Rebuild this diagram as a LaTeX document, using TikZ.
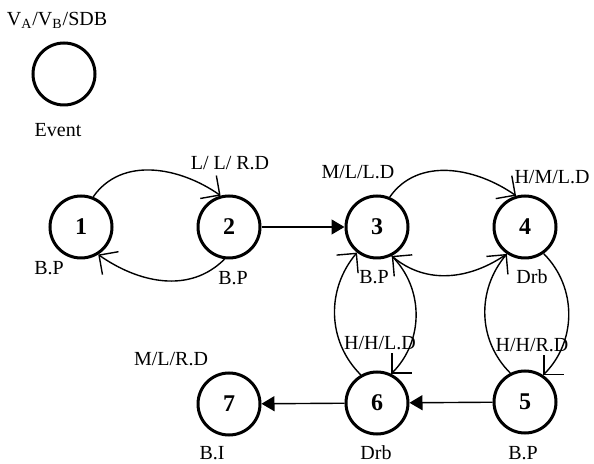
\documentclass[tikz,border=0pt]{standalone}
\usepackage{fontspec}
\setmainfont{Liberation Serif}
\usetikzlibrary{arrows.meta}

\begin{document}
\begin{tikzpicture}[x=0.5pt, y=-0.5pt,
  state/.style={circle, draw, line width=1.5pt, minimum size=31pt, inner sep=0pt, font=\fontsize{12}{14}\selectfont\bfseries},
  lbl/.style={inner sep=0pt, font=\fontsize{10}{12}\selectfont},
  openarrow/.style={-{Straight Barb[length=7pt,width=14pt]}, line width=0.7pt},
  fillarrow/.style={-{Triangle[length=6.5pt,width=7.5pt]}, line width=0.7pt}]
\useasboundingbox (0,0) rectangle (594,464);

% legend
\node[lbl] (leghead) at (57,20) {V\textsubscript{A}/V\textsubscript{B}/SDB};
\node[state] (legend) at (64,74) {};
\node[lbl] (legevent) at (58,130) {Event};

% states
\node[state] (n1) at (81,227) {1};
\node[state] (n2) at (229,227) {2};
\node[state] (n3) at (377,227) {3};
\node[state] (n4) at (525,227) {4};
\node[state] (n5) at (525,402) {5};
\node[state] (n6) at (377,403) {6};
\node[state] (n7) at (229,404) {7};

% labels
\node[lbl] (l1) at (49,268) {B.P};
\node[lbl] (l2top) at (230,163) {L/ L/ R.D};
\node[lbl] (l2) at (233,278) {B.P};
\node[lbl] (l3top) at (358,172) {M/L/L.D};
\node[lbl] (l3) at (374,277) {B.P};
\node[lbl] (l4top) at (552,177) {H/M/L.D};
\node[lbl] (l4) at (532,277) {Drb};
\node[lbl] (l6top) at (380,343) {H/H/L.D};
\node[lbl] (l6) at (376,453) {Drb};
\node[lbl] (l5top) at (532,345) {H/H/R.D};
\node[lbl] (l5) at (523,453) {B.P};
\node[lbl] (l7top) at (171,359) {M/L/R.D};
\node[lbl] (l7) at (212,453) {B.I};

% transitions
\draw[openarrow] (n1.68) to[out=55,in=145] (n2.105);
\draw[openarrow] (n2.262) to[out=225,in=-35] (n1.-58);
\draw[fillarrow] (n2) -- (n3);
\draw[openarrow] (n3.67) to[out=55,in=145] (n4.106);
\draw[openarrow] (n4.236) to[out=215,in=-40] (n3.-63);
\draw[openarrow] (n3.-63) to[out=-45,in=45] (n6.64);
\draw[openarrow] (n6.120) to[out=135,in=230] (n3.232);
\draw[openarrow] (n4.-55) to[out=-45,in=45] (n5.56);
\draw[openarrow] (n5.117) to[out=135,in=230] (n4.236);
\draw[fillarrow] (n5) -- (n6);
\draw[fillarrow] (n6) -- (n7);
\end{tikzpicture}
\end{document}
